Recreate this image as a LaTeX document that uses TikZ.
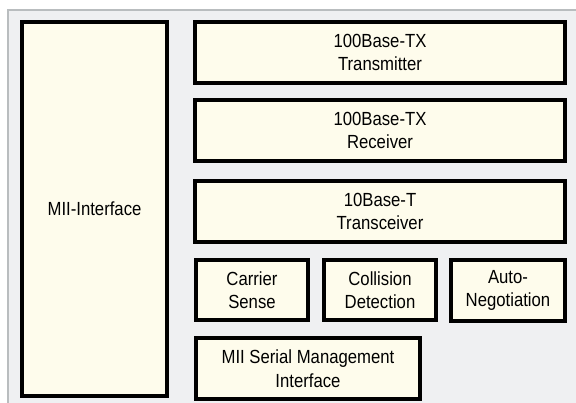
\documentclass[tikz,border=0pt]{standalone}
\usepackage{fontspec}
\setmainfont[FakeStretch=0.88]{Liberation Sans}
\usetikzlibrary{calc}
\definecolor{panel}{HTML}{EFF0F2}
\definecolor{paneledge}{HTML}{B9BDBF}
\definecolor{cream}{HTML}{FEFCEC}
\tikzset{
  blkshadow/.style={fill=black!22},
  blk/.style={draw=black, line width=3.4pt, fill=cream},
  blktext/.style={font=\fontsize{19}{23.5}\selectfont, align=center, inner sep=0pt},
}
\begin{document}
\begin{tikzpicture}[x=1pt,y=-1pt]
\useasboundingbox (0,0) rectangle (576,403);
\fill[white] (0,0) rectangle (576,403);
\fill[panel] (8,10) rectangle (580,410);
\draw[paneledge, line width=2pt] (8,410) -- (8,10) -- (580,10);
\foreach \n/\a/\b/\t in {
  mii/{22,22}/{167,396}/{MII-Interface},
  tx/{195,22}/{565,83}/{100Base-TX\\Transmitter},
  rx/{195,100}/{565,161}/{100Base-TX\\Receiver},
  trx/{195,181}/{565,242}/{10Base-T\\Transceiver},
  cs/{196,260}/{308,320}/{Carrier\\Sense},
  cd/{324,260}/{436,320}/{Collision\\Detection},
  an/{451,260}/{565,321}/{Auto-\\Negotiation},
  smi/{196,338}/{420,399}/{MII Serial Management\\Interface}} {
  \fill[blkshadow] ($(\a)+(1.8,1.8)$) rectangle ($(\b)+(1.8,1.8)$);
  \draw[blk] (\a) rectangle (\b);
  \node[blktext] (\n) at ($(\a)!0.5!(\b)$) {\t};
}
\end{tikzpicture}
\end{document}
